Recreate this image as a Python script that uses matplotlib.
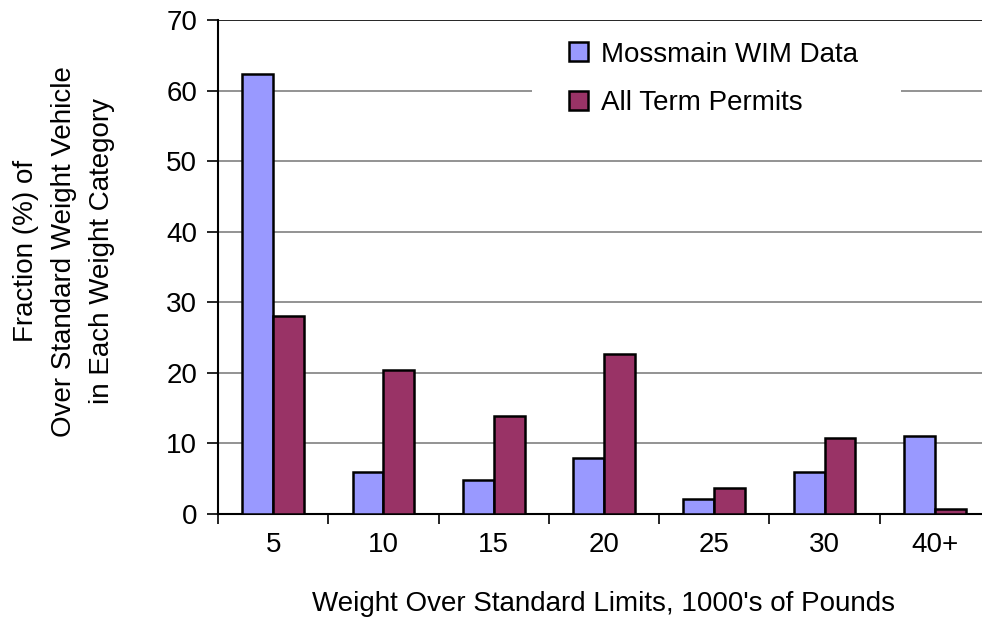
import numpy as np
import matplotlib
matplotlib.use("Agg")
import matplotlib.pyplot as plt
from matplotlib.patches import Rectangle

plt.rcParams['font.family'] = ['Liberation Sans', 'DejaVu Sans']

categories = ['5', '10', '15', '20', '25', '30', '40+']
wim_data = [62.3, 6.0, 4.8, 8.0, 2.1, 6.0, 11.1]
term_permits = [28.0, 20.4, 13.9, 22.7, 3.7, 10.8, 0.7]

fig = plt.figure(figsize=(9.82, 6.17), dpi=100)
ax = fig.add_axes([218 / 982, 1 - 514 / 617, 772 / 982, 494 / 617])

x = np.arange(len(categories))
w = 0.28
ax.bar(x - w / 2, wim_data, w, color='#9999FF', edgecolor='black', linewidth=1.8,
       label='Mossmain WIM Data', zorder=3)
ax.bar(x + w / 2, term_permits, w, color='#993366', edgecolor='black', linewidth=1.8,
       label='All Term Permits', zorder=3)

ax.set_xlim(-0.5, len(categories) - 0.5)
ax.set_ylim(0, 70)
ax.set_yticks(range(0, 71, 10))
ax.set_xticks(x)
ax.set_xticklabels(categories)
ax.set_xticks(np.arange(-0.5, len(categories)), minor=True)
ax.tick_params(axis='x', which='major', length=0, pad=13, labelsize=20)
ax.tick_params(axis='x', which='minor', length=7, width=1.2, direction='out')
ax.tick_params(axis='y', length=8, width=1.2, labelsize=20, pad=7)

ax.yaxis.grid(True, color='#808080', linewidth=1.2, zorder=0)
ax.set_axisbelow(True)
ax.get_ygridlines()[-1].set_color('black')
for s in ['top', 'right']:
    ax.spines[s].set_visible(False)
ax.spines['left'].set_linewidth(1.5)
ax.spines['bottom'].set_linewidth(1.5)

ax.set_xlabel("Weight Over Standard Limits, 1000's of Pounds", fontsize=20, labelpad=24)
ax.set_ylabel('Fraction (%) of\nOver Standard Weight Vehicle\nin Each Weight Category',
              fontsize=20, linespacing=1.6)
ax.yaxis.set_label_coords(-0.133, 0.532)

# white box behind the legend hides the gridline there
ax.add_patch(Rectangle((0.407, 0.79), 0.478, 0.19, transform=ax.transAxes,
                       facecolor='white', edgecolor='none', zorder=1))
ax.legend(loc='upper left', bbox_to_anchor=(0.4335, 0.99), fontsize=20,
          frameon=False, handlelength=0.68, handleheight=0.68, handletextpad=0.45,
          labelspacing=0.82, borderpad=0.4, borderaxespad=0.2)

fig.savefig('out.png', dpi=100)
